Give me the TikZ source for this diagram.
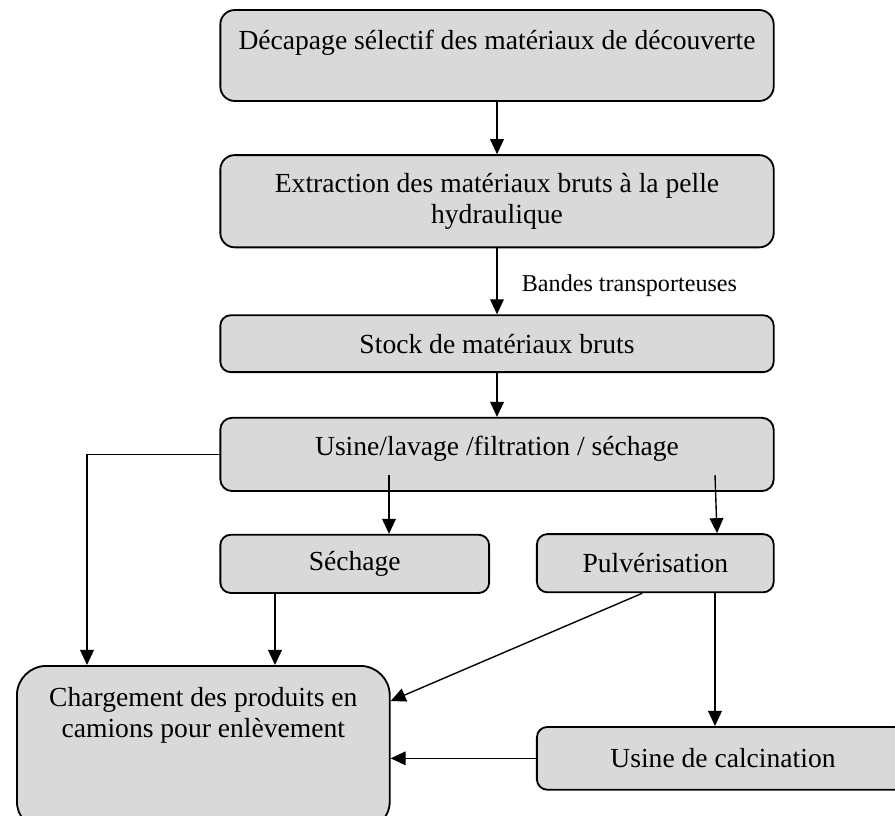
\documentclass[tikz,border=0pt]{standalone}
\usepackage{fontspec}
\setmainfont{Liberation Serif}
\usetikzlibrary{arrows.meta,calc,positioning}
\definecolor{boxgray}{RGB}{217,217,217}

\begin{document}
\begin{tikzpicture}[
      x=0.1529mm, y=0.1529mm,
      font=\fontsize{12}{13.6}\selectfont,
      >={Triangle[length=2.3mm,width=2.1mm]},
      arr/.style={->, line width=0.6pt},
      box/.style={draw, line width=0.8pt, fill=boxgray, rounded corners=1.6mm, align=center, minimum width=84.6mm},
      lbl/.style={font=\fontsize{10.5}{12}\selectfont, inner sep=0pt}
    ]
    \useasboundingbox (0,0) rectangle (895,-816);
    \clip (0,0) rectangle (895,-816);

    % Main column (top-down)
    \node (decap) [box, rounded corners=2.2mm, minimum height=13.9mm, text height=3mm, text depth=4.7mm] at (497,-55.5)
                                                      {Décapage sélectif des matériaux de découverte};
    \node (extr)  [box, rounded corners=2.2mm, minimum height=14.1mm, below=8mm of decap]
                                                      {Extraction des matériaux bruts à la pelle\\hydraulique};
    \node (stock) [box, minimum height=8.7mm, below=10.1mm of extr] {Stock de matériaux bruts};
    \node (usine) [box, rounded corners=1.8mm, minimum height=11.2mm, text height=3mm, text depth=2.7mm, below=6.7mm of stock]
                                                      {Usine/lavage /filtration / séchage};

    % Second row
    \node (sech) [box, minimum width=41.1mm, minimum height=8.9mm, below=6.4mm of usine.south west, anchor=north west] {Séchage};
    \node (pulv) [box, minimum width=36.2mm, minimum height=8.9mm, below=6.3mm of usine.south east, anchor=north east] {Pulvérisation};

    % Bottom
    \node (calc)  [box, minimum width=56.9mm, minimum height=9.6mm, below=20.3mm of pulv.south west, anchor=north west]
                                                      {Usine de calcination};
    \node (charg) [box, rounded corners=4.5mm, minimum width=57mm, minimum height=25.2mm, anchor=north west] at (16,-665) {};
    \node (chargtxt) [below=3.3mm of charg.north, align=center, inner sep=0pt]
                                                      {Chargement des produits en\\camions pour enlèvement};

    % Vertical guides
    \coordinate (xa) at (87,0);
    \coordinate (xb) at (275,0);
    \coordinate (xc) at (389,0);
    \coordinate (xd) at (715,0);

    % Arrows main column
    \draw[arr] (decap) -- (extr);
    \draw[arr] (extr)  -- node[lbl, right=3.7mm, yshift=-0.6mm] {Bandes transporteuses} (stock);
    \draw[arr] (stock) -- (usine);

    % Arrows to second row
    \draw[arr] ($(usine.south -| xc)+(0,17)$) -- (sech.north -| xc);
    \draw[arr] ($(usine.south -| xd)+(0,17)$) -- ($(pulv.north -| xd)+(2,0)$);

    % Arrows to loading
    \draw[arr] (usine.west) -| (charg.north -| xa);
    \draw[arr] (sech.south -| xb) -- (charg.north -| xb);
    \draw[arr] ($(pulv.south)+(-13,0)$) -- ($(charg.north east)+(0,-36)$);
    \draw[arr] (pulv.south -| xd) -- (calc.north -| xd);
    \draw[arr] (calc.west) -- (calc.west -| charg.east);
  \end{tikzpicture}
\end{document}
